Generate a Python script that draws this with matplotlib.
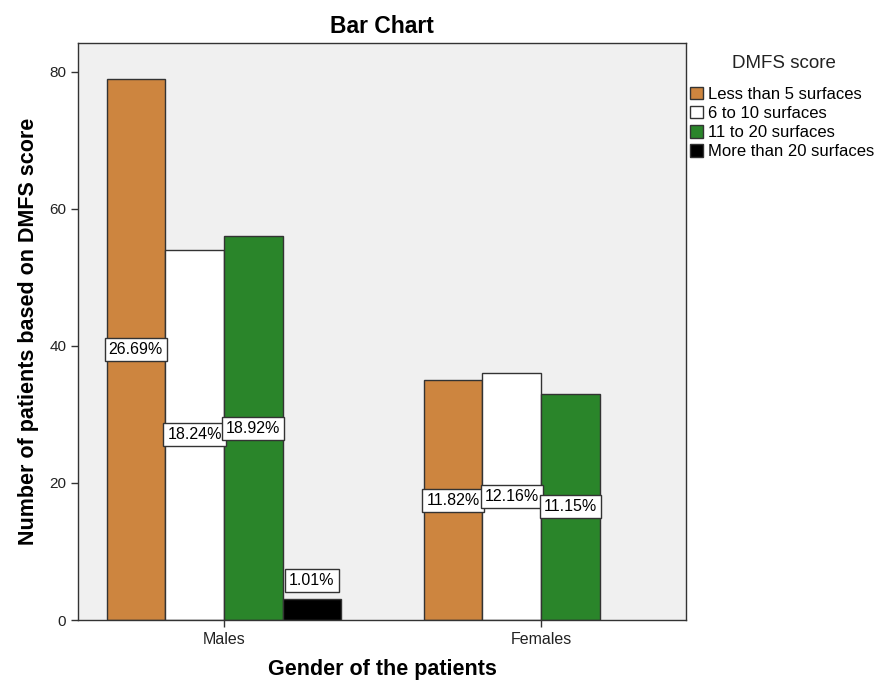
import numpy as np
import matplotlib
matplotlib.use("Agg")
import matplotlib.pyplot as plt
from matplotlib.patches import Patch

plt.rcParams['font.family'] = ['Liberation Sans', 'DejaVu Sans']

genders = ['Males', 'Females']
groups = ['Less than 5 surfaces', '6 to 10 surfaces', '11 to 20 surfaces', 'More than 20 surfaces']
less_than_5 = [79, 35]
six_to_10 = [54, 36]
eleven_to_20 = [56, 33]
more_than_20 = [3, 0]
colors = ['#CD853F', '#FFFFFF', '#2A852A', '#000000']

def main():
    counts = [less_than_5, six_to_10, eleven_to_20, more_than_20]
    total = sum(sum(c) for c in counts)

    fig = plt.figure(figsize=(8.77, 6.82), dpi=100)
    ax = fig.add_axes([0.0889, 0.0909, 0.6933, 0.846])
    ax.set_facecolor('#F0F0F0')

    x = np.arange(len(genders))
    w = 0.185
    for i, (vals, col) in enumerate(zip(counts, colors)):
        off = (i - 1.5) * w
        for j, v in enumerate(vals):
            if v == 0:
                continue
            ax.bar(x[j] + off, v, width=w, color=col, edgecolor='#333333', linewidth=1, zorder=2)
            pct = f"{100 * v / total:.2f}%"
            ypos = v / 2 if v > 10 else v + 2.8
            ax.text(x[j] + off, ypos, pct, ha='center', va='center', fontsize=11.5, zorder=3,
                    bbox=dict(boxstyle='square,pad=0.25', fc='white', ec='#333333', lw=1))

    ax.set_xlim(-0.46, 1.457)
    ax.set_ylim(0, 84.2)
    ax.set_xticks(x)
    ax.set_xticklabels(genders, fontsize=11.5)
    ax.set_yticks([0, 20, 40, 60, 80])
    ax.tick_params(axis='both', direction='out', length=5, width=1, colors='#333333', labelcolor='#222222')
    ax.tick_params(axis='y', labelsize=11)
    for s in ax.spines.values():
        s.set_color('#333333')
        s.set_linewidth(1)

    ax.set_xlabel('Gender of the patients', fontsize=15.5, fontweight='bold', labelpad=9)
    ax.set_ylabel('Number of patients based on DMFS score', fontsize=15.5, fontweight='bold', labelpad=7)
    ax.set_title('Bar Chart', fontsize=16.5, fontweight='bold', pad=7)

    fig.text(784 / 877, 1 - 63 / 682, 'DMFS score', ha='center', va='center', fontsize=13.5, color='#222222')
    handles = [Patch(facecolor=c, edgecolor='#333333', label=g) for c, g in zip(colors, groups)]
    fig.legend(handles=handles, loc='upper left',
               bbox_to_anchor=(0.787, 0.873), frameon=False, fontsize=12,
               handlelength=0.78, handleheight=0.78, borderpad=0,
               handletextpad=0.3, labelspacing=0.25, borderaxespad=0)
    fig.savefig('out.png', dpi=100)

if __name__ == "__main__":
    main()
